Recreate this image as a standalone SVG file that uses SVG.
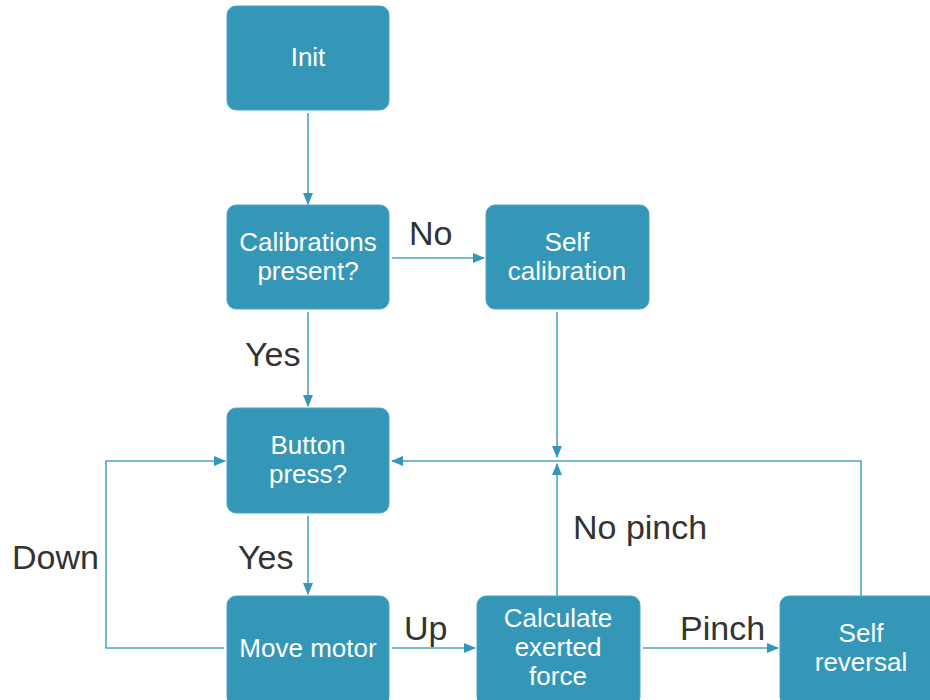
<svg xmlns="http://www.w3.org/2000/svg" width="930" height="700" viewBox="0 0 930 700">
<style>
.n rect{fill:#3597b8;stroke:#4aa5c6;stroke-width:1}
.n text{fill:#fff;font-family:"Liberation Sans",Arial,sans-serif;font-size:26px;text-anchor:middle}
.c path{fill:none;stroke:#49a5c7;stroke-width:1.6}
.l{fill:#333;font-family:"Liberation Sans",Arial,sans-serif;font-size:34px}
</style>
<defs>
<marker id="a" viewBox="0 0 12 12" refX="11" refY="6" markerWidth="12" markerHeight="12" markerUnits="userSpaceOnUse" orient="auto">
<path d="M0,1 L12,6 L0,11 Z" fill="#3597b8"/>
</marker>
</defs>
<rect width="930" height="700" fill="#fff"/>
<g class="c">
<path d="M308,113 V204" marker-end="url(#a)"/>
<path d="M392,258 H484" marker-end="url(#a)"/>
<path d="M308,312 V406" marker-end="url(#a)"/>
<path d="M557,312 V457" marker-end="url(#a)"/>
<path d="M861,596 V461 H392" marker-end="url(#a)"/>
<path d="M557,596 V464" marker-end="url(#a)"/>
<path d="M224,648 H106 V461 H225" marker-end="url(#a)"/>
<path d="M308,516 V594" marker-end="url(#a)"/>
<path d="M392,648 H475" marker-end="url(#a)"/>
<path d="M643,648 H778" marker-end="url(#a)"/>
</g>
<g id="init" class="n"><rect x="227" y="6" width="162" height="104" rx="9"/><text x="308" y="66">Init</text></g>
<g id="calib" class="n"><rect x="227" y="205" width="162" height="104" rx="9"/><text x="308" y="251">Calibrations</text><text x="308" y="280">present?</text></g>
<g id="selfcal" class="n"><rect x="486" y="205" width="163" height="104" rx="9"/><text x="567" y="251">Self</text><text x="567" y="280">calibration</text></g>
<g id="button" class="n"><rect x="227" y="408" width="162" height="105" rx="9"/><text x="308" y="454">Button</text><text x="308" y="483">press?</text></g>
<g id="move" class="n"><rect x="227" y="596" width="162" height="110" rx="9"/><text x="308" y="657">Move motor</text></g>
<g id="calc" class="n"><rect x="477" y="596" width="163" height="110" rx="9"/><text x="558" y="627">Calculate</text><text x="558" y="656">exerted</text><text x="558" y="685">force</text></g>
<g id="rev" class="n"><rect x="780" y="596" width="160" height="110" rx="9"/><text x="861" y="642">Self</text><text x="861" y="671">reversal</text></g>
<text class="l" x="409" y="245">No</text>
<text class="l" x="245" y="366">Yes</text>
<text class="l" x="238" y="569">Yes</text>
<text class="l" x="12" y="569">Down</text>
<text class="l" x="573" y="539">No pinch</text>
<text class="l" x="404" y="640">Up</text>
<text class="l" x="680" y="640">Pinch</text>
</svg>
